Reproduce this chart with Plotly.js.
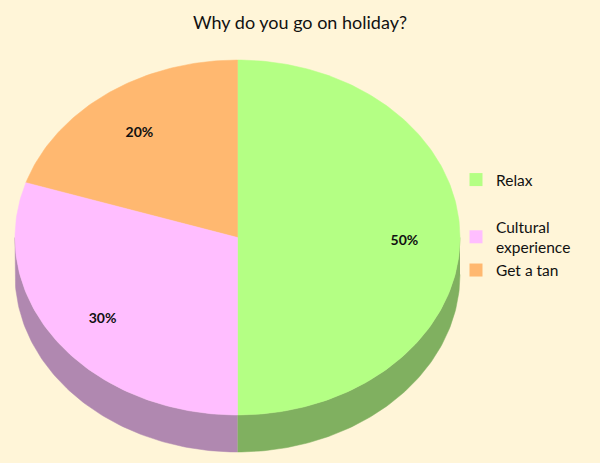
<!DOCTYPE html>
<html>
<head>
<meta charset="utf-8">
<script src="https://cdn.plot.ly/plotly-3.0.1.min.js"></script>
<style>html,body{margin:0;padding:0;background:#FFF5D8;}</style>
</head>
<body>
<div id="chart" style="width:600px;height:463px;"></div>
<script>
// Data
const labels = ["Relax", "Get a tan", "Cultural experience"];
const legendNames = ["Relax", "Cultural<br>experience", "Get a tan"];
const values = [50, 20, 30];
const topColors = ["#B4FF84", "#FFB870", "#FFBEFF"];
const sideColors = ["#80B060", "#B07830", "#B088B0"];

// Geometry of the tilted pie (pixel space)
const cx = 237.5, cy = 237.5, rx = 222.5, ry = 177.5, depth = 37, labelR = 0.75, labelDy = 4;
// Angles measured clockwise from 12 o'clock.
const total = values.reduce((a, b) => a + b, 0);
const sweep = values.map(v => v / total * 360);
const starts = [0, 360 - sweep[1], sweep[0]];

function pt(theta, dy) {
  const t = theta * Math.PI / 180;
  return [cx + rx * Math.sin(t), cy - ry * Math.cos(t) + (dy || 0)];
}
function arc(a, b, dy) {
  const n = Math.max(2, Math.ceil(Math.abs(b - a) / 1));
  const out = [];
  for (let i = 0; i <= n; i++) out.push(pt(a + (b - a) * i / n, dy));
  return out;
}

const traces = [];
// side walls (visible where 90..270)
for (let i = 0; i < values.length; i++) {
  const a = Math.max(starts[i], 90), b = Math.min(starts[i] + sweep[i], 270);
  if (b <= a) continue;
  const pts = arc(a, b, 0).concat(arc(b, a, depth));
  traces.push({
    x: pts.map(p => p[0]), y: pts.map(p => p[1]),
    type: "scatter", mode: "lines", fill: "toself",
    fillcolor: sideColors[i], line: {color: sideColors[i], width: 0.5},
    hoverinfo: "skip", showlegend: false
  });
}
// top faces
for (let i = 0; i < values.length; i++) {
  const pts = [[cx, cy]].concat(arc(starts[i], starts[i] + sweep[i], 0));
  pts.push([cx, cy]);
  traces.push({
    x: pts.map(p => p[0]), y: pts.map(p => p[1]),
    type: "scatter", mode: "lines", fill: "toself",
    fillcolor: topColors[i], line: {color: topColors[i], width: 0.5},
    hoverinfo: "skip", showlegend: false
  });
}
// labels
const lp = values.map((v, i) => {
  const mid = starts[i] + sweep[i] / 2;
  const t = mid * Math.PI / 180;
  return [cx + labelR * rx * Math.sin(t), cy - labelR * ry * Math.cos(t) + labelDy];
});
traces.push({
  x: lp.map(p => p[0]), y: lp.map(p => p[1]),
  text: values.map(v => Math.round(v / total * 100) + "%"),
  type: "scatter", mode: "text",
  textfont: {family: "Lato, 'Open Sans', sans-serif", size: 14, color: "#111", weight: "bold"},
  hoverinfo: "skip", showlegend: false
});
// legend entries
const legendOrder = [0, 2, 1];
legendOrder.forEach((i, k) => {
  traces.push({
    x: [null], y: [null], type: "scatter", mode: "markers",
    marker: {symbol: "square", size: 13, color: topColors[i]},
    name: legendNames[k], showlegend: true,
    legendgroup: k === 0 ? "g1" : "g2"
  });
});

const layout = {
  width: 600, height: 463,
  margin: {l: 0, r: 0, t: 0, b: 0},
  paper_bgcolor: "#FFF5D8", plot_bgcolor: "#FFF5D8",
  title: {text: "Why do you go on holiday?", x: 0.5, xanchor: "center", y: 1 - 23 / 463, yanchor: "middle",
          font: {family: "Lato, 'Open Sans', sans-serif", size: 18, color: "#111"}},
  xaxis: {range: [0, 600], visible: false, fixedrange: true},
  yaxis: {range: [463, 0], visible: false, fixedrange: true},
  showlegend: true,
  legend: {x: 456 / 600, xanchor: "left", y: 1 - 163 / 463, yanchor: "top",
           bgcolor: "rgba(0,0,0,0)", font: {family: "Lato, 'Open Sans', sans-serif", size: 15.5, color: "#111"},
           tracegroupgap: 24, itemwidth: 30}
};
Plotly.newPlot("chart", traces, layout, {displayModeBar: false, staticPlot: true});
</script>
</body>
</html>
